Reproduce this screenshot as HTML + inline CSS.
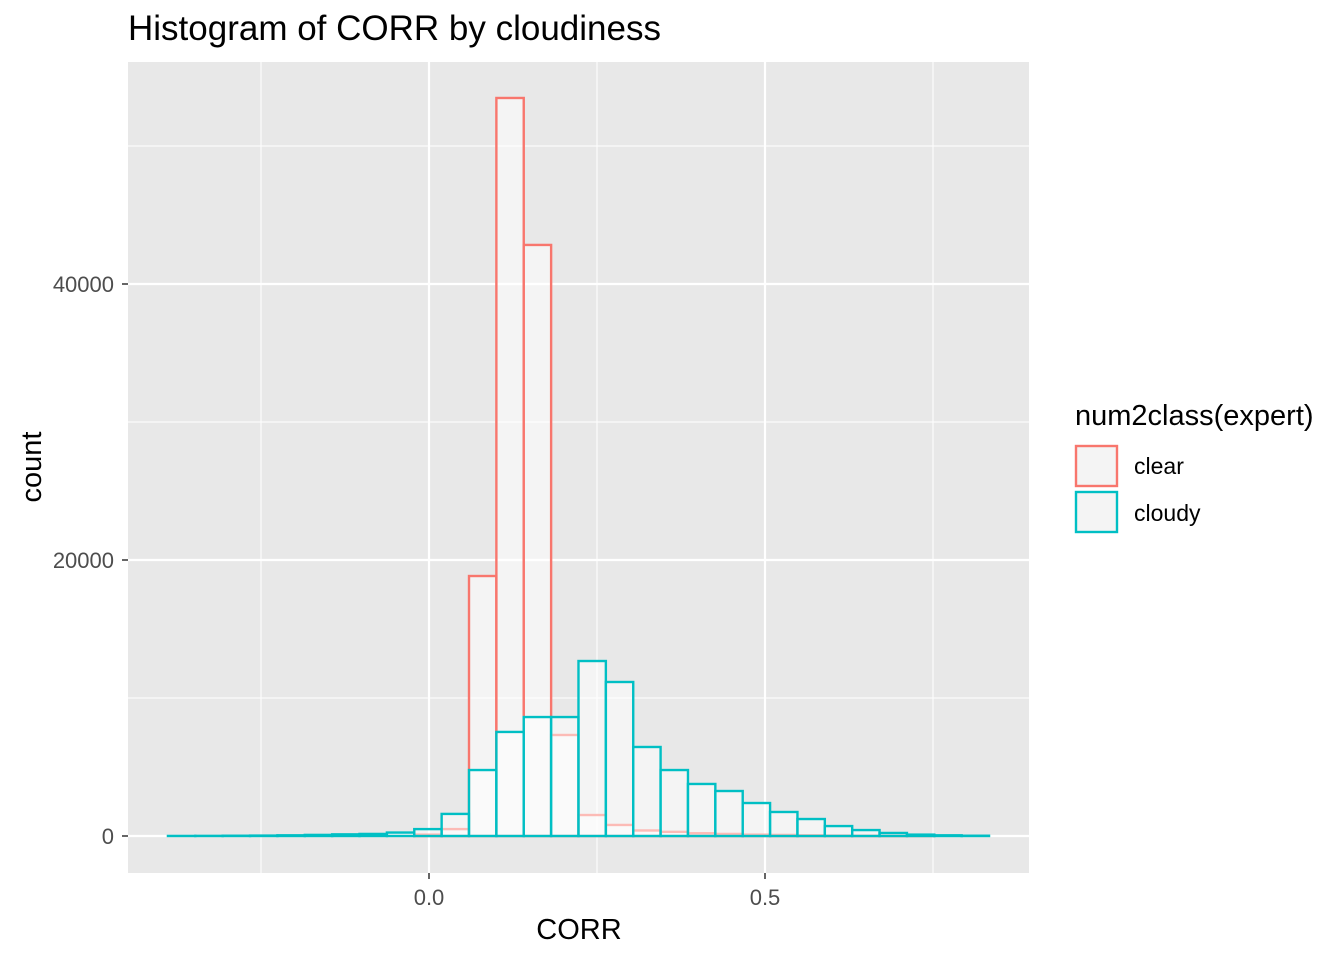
<!DOCTYPE html>
<html><head><meta charset="utf-8"><style>
body{margin:0;background:#fff;font-family:"Liberation Sans",Arial,sans-serif}
</style></head><body>
<svg id="chart" width="1344" height="960" xmlns="http://www.w3.org/2000/svg" font-family="Liberation Sans, Arial, sans-serif">
<text x="128" y="40" font-size="35" fill="#000">Histogram of CORR by cloudiness</text>
<rect x="128" y="62" width="901" height="811" fill="#e8e8e8"/>
<g id="grid"></g>
<g id="bars"></g>
<g id="axes"></g>
<text x="579" y="939" font-size="29" text-anchor="middle" fill="#000">CORR</text>
<text transform="translate(41,467) rotate(-90)" font-size="29" text-anchor="middle" fill="#000">count</text>
<g>
<text x="1075" y="425" font-size="29" fill="#000">num2class(expert)</text>
<rect x="1076" y="446" width="41" height="40" fill="#f4f4f4" stroke="#F8766D" stroke-width="2.4"/>
<text x="1134" y="474" font-size="23" fill="#000">clear</text>
<rect x="1076" y="492" width="41" height="40" fill="#f4f4f4" stroke="#00BFC4" stroke-width="2.4"/>
<text x="1134" y="521" font-size="23" fill="#000">cloudy</text>
</g>
</svg>
<script>
const binStart = -0.3885;
const binWidth = 0.04073;
const clearCounts = [0,0,0,0,0,0,0,0,0,100,500,18840,53480,42830,7320,1520,800,400,300,200,150,100,80,50,30,20,10,5,0,0];
const cloudyCounts = [5,10,20,30,50,80,120,150,250,500,1600,4780,7540,8620,8620,12680,11160,6450,4780,3770,3260,2390,1740,1230,720,430,220,100,50,20];
const xTicks = [0.0, 0.5];
const xTickLabels = ["0.0", "0.5"];
const xMinor = [-0.25, 0.25, 0.75];
const yTicks = [0, 20000, 40000];
const yTickLabels = ["0", "20000", "40000"];
const yMinor = [10000, 30000, 50000];

const NS = "http://www.w3.org/2000/svg";
const X = v => 429 + v * 672;
const Y = v => 836 - v * 0.0138;
function mk(tag, attrs, parent){const e=document.createElementNS(NS,tag);for(const k in attrs)e.setAttribute(k,attrs[k]);parent.appendChild(e);return e;}
const grid=document.getElementById('grid'), bars=document.getElementById('bars'), axes=document.getElementById('axes');
xMinor.forEach(v=>{const l=mk('line',{x1:X(v),x2:X(v),y1:62,y2:873,stroke:'#fff','stroke-width':1},grid);

});
yMinor.forEach(v=>{const l=mk('line',{x1:128,x2:1029,y1:Y(v),y2:Y(v),stroke:'#fff','stroke-width':1},grid);

});
xTicks.forEach((v,i)=>{const l=mk('line',{x1:X(v),x2:X(v),y1:62,y2:873,stroke:'#fff','stroke-width':2.2},grid);


const t=mk('line',{x1:X(v),x2:X(v),y1:873,y2:879,stroke:'#333','stroke-width':1.5},axes);


const tx=mk('text',{x:X(v),y:905,'font-size':22,fill:'#4d4d4d','text-anchor':'middle'},axes);tx.textContent=xTickLabels[i];

});
yTicks.forEach((v,i)=>{const l=mk('line',{x1:128,x2:1029,y1:Y(v),y2:Y(v),stroke:'#fff','stroke-width':2.2},grid);


const t=mk('line',{x1:122,x2:128,y1:Y(v),y2:Y(v),stroke:'#333','stroke-width':1.5},axes);


const tx=mk('text',{x:114,y:Y(v)+8,'font-size':22,fill:'#4d4d4d','text-anchor':'end'},axes);tx.textContent=yTickLabels[i];

});
function series(counts,color,name){counts.forEach((c,i)=>{const x0=X(binStart+i*binWidth),x1=X(binStart+(i+1)*binWidth);
const r=mk('rect',{x:x0,y:Y(c),width:x1-x0,height:Y(0)-Y(c),fill:'#fff','fill-opacity':0.5,stroke:color,'stroke-width':2.4},bars);

});}
series(clearCounts,'#F8766D','clear');
series(cloudyCounts,'#00BFC4','cloudy');
</script>
</body></html>
